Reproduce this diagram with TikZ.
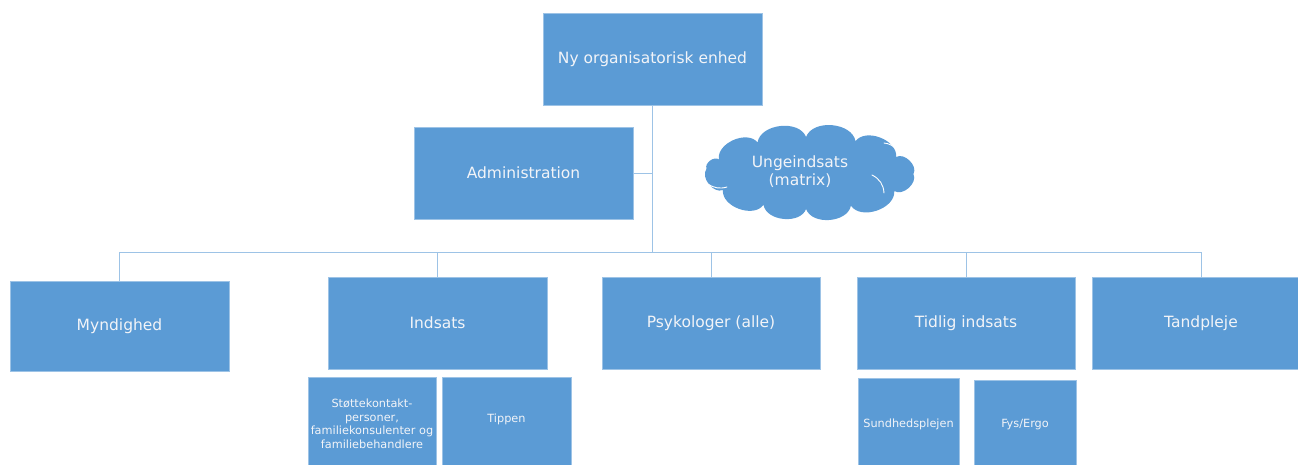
\documentclass[tikz,border=0pt]{standalone}
\usepackage{fontspec}
\setmainfont{DejaVu Sans}
\usetikzlibrary{calc}
\definecolor{ofblue}{HTML}{5B9BD5}
\definecolor{ofedge}{HTML}{9DC3E6}
\definecolor{ofline}{HTML}{9DC3E6}
\definecolor{oftext}{HTML}{F2F4F8}
\tikzset{
  orgbox/.style={rectangle, fill=ofblue, draw=ofedge, line width=0.6pt, text=oftext,
    inner sep=0pt, font=\fontsize{15.5}{18}\selectfont, align=center},
  subbox/.style={orgbox, font=\fontsize{11.3}{13.5}\selectfont},
  conn/.style={draw=ofline, line width=0.9pt},
  puff/.style={bend right=75},
  cloudarc/.style={draw=white, line width=0.9pt, line cap=round}
}
\begin{document}
\begin{tikzpicture}[x=1pt,y=-1pt]
\useasboundingbox (0,0) rectangle (1298,464);
\clip (0,0) rectangle (1298,464);
% top level
\node[orgbox, minimum width=219, minimum height=92] (top) at (652.5,59) {Ny organisatorisk enhed};
\node[orgbox, minimum width=219, minimum height=92] (admin) at (523.5,173) {Administration};
% cloud
\coordinate (cc) at (809.5,173);
\fill[ofblue] ($(cc)+(188:104 and 30)$)
  to[puff] ($(cc)+(150:100 and 34)$)
  to[puff] ($(cc)+(118:98 and 36)$)
  to[puff] ($(cc)+(92:98 and 36)$)
  to[puff] ($(cc)+(65:98 and 36)$)
  to[puff] ($(cc)+(32:100 and 34)$)
  to[puff] ($(cc)+(2:104 and 30)$)
  to[puff] ($(cc)+(-30:100 and 32)$)
  to[puff] ($(cc)+(-62:98 and 36)$)
  to[puff] ($(cc)+(-92:98 and 36)$)
  to[puff] ($(cc)+(-122:98 and 36)$)
  to[puff] ($(cc)+(-155:100 and 32)$)
  to[puff] cycle;
\draw[cloudarc] (708,184) to[bend right=25] (727,187);
\draw[cloudarc] (872,175) to[bend left=30] (884,193);
\draw[cloudarc] (884,143) to[bend left=20] (896,149);
\node[text=oftext, font=\fontsize{15.5}{18}\selectfont, align=center] (cloud) at (800,172) {Ungeindsats\\(matrix)};
% second level
\node[orgbox, minimum width=219, minimum height=90] (myn) at (119.5,326) {Myndighed};
\node[orgbox, minimum width=219, minimum height=92] (ind) at (437.5,323) {Indsats};
\node[orgbox, minimum width=218, minimum height=92] (psy) at (711,323) {Psykologer (alle)};
\node[orgbox, minimum width=218, minimum height=92] (tid) at (966,323) {Tidlig indsats};
\node[orgbox, minimum width=218, minimum height=92] (tand) at (1201,323) {Tandpleje};
% third level
\node[subbox, minimum width=128, minimum height=94] (stotte) at (372,424) {Støttekontakt-\\personer,\\familiekonsulenter og\\familiebehandlere};
\node[subbox, minimum width=129, minimum height=94, anchor=north] (tip) at (506.5,377) {\raisebox{0pt}[42pt][46pt]{Tippen}};
\node[subbox, minimum width=101, minimum height=92] (sund) at (908.5,424) {Sundhedsplejen};
\node[subbox, minimum width=102, minimum height=90] (fys) at (1025,425) {Fys/Ergo};
% connectors
\coordinate (bus) at (652.5,252);
\draw[conn] (top.south) -- (bus);
\draw[conn] (admin.east) -- (admin.east -| bus);
\foreach \n in {myn,ind,psy,tid,tand}{
  \draw[conn] (bus) -| (\n.north);
}
\end{tikzpicture}
\end{document}
